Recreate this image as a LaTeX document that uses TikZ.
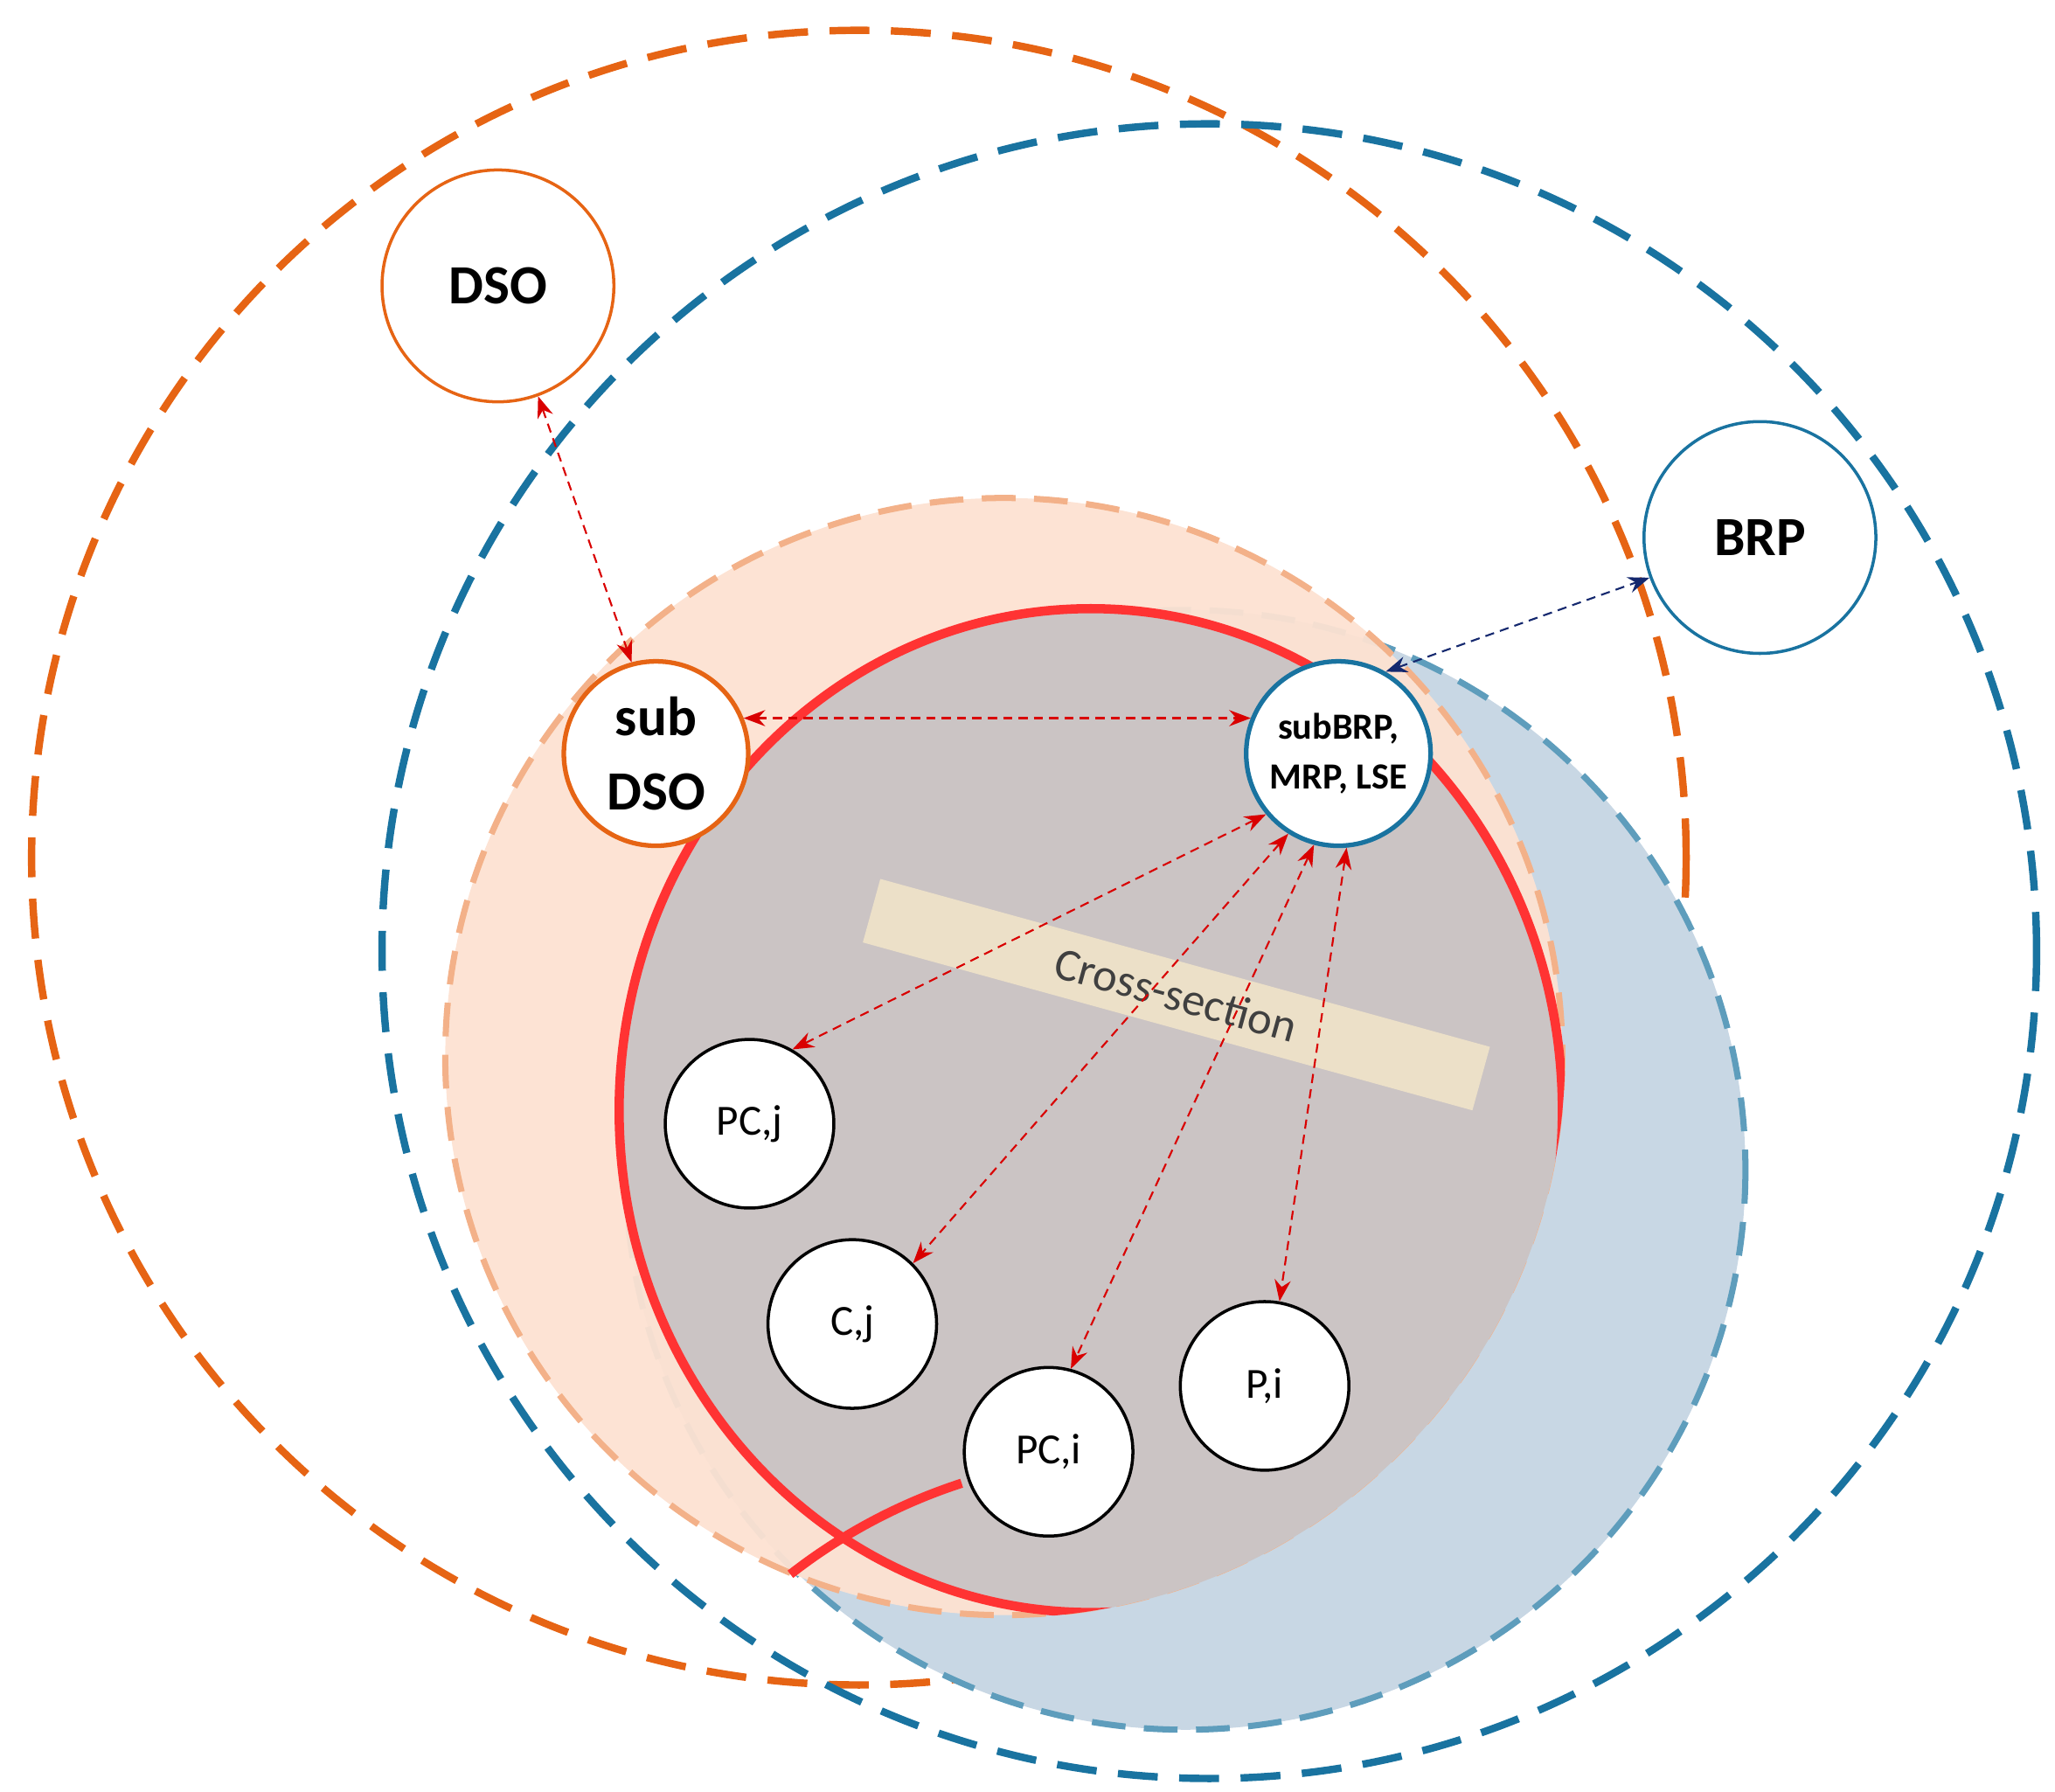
\documentclass[tikz,border=0pt]{standalone}
\usepackage{fontspec}
\setmainfont{Carlito}
\usetikzlibrary{arrows.meta}
\definecolor{dsoorange}{RGB}{230,100,20}
\definecolor{brpblue}{RGB}{25,115,160}
\definecolor{peach}{RGB}{253,226,210}
\definecolor{paleblue}{RGB}{200,215,228}
\definecolor{innergray}{RGB}{203,196,196}
\definecolor{band}{RGB}{236,224,200}
\definecolor{navylink}{RGB}{20,40,110}
\begin{document}
\begin{tikzpicture}[x=0.01507cm,y=-0.01507cm,
    bigring/.style={dash pattern=on 13pt off 7pt,line width=2.4pt},
    actor/.style={circle,draw,fill=white,line width=1pt,inner sep=0pt,align=center},
    member/.style={actor,draw=black,minimum size=128*0.01507cm,font=\fontsize{14}{16}\selectfont},
    link/.style={red!85!black,densely dashed,{Stealth[length=7pt]}-{Stealth[length=7pt]},line width=0.6pt}]
\useasboundingbox (0,0) rectangle (1560,1360);
% outer dashed rings
\draw[bigring,dsoorange] (652,651) circle (628);
\draw[bigring,brpblue] (918,722) circle (628);
% shaded zones
\fill[paleblue] (900,888) circle (425);
\draw[brpblue!70,dash pattern=on 11pt off 6pt,line width=2pt] (900,888) circle (425);
\fill[peach,opacity=0.95] (762,802) circle (424);
\draw[dsoorange!50,dash pattern=on 11pt off 6pt,line width=2pt] (762,802) circle (424);
\begin{scope}
  \clip (762,802) circle (426);
  \fill[innergray] (828,843) ellipse (358 and 381);
  \draw[red!80,line width=3pt] (828,843) ellipse (358 and 381);
\end{scope}
\draw[red!80,line width=3pt] (600,1195) arc (232:252:424);
% cross-section band
\node[fill=band,minimum width=480*0.01507cm,minimum height=50*0.01507cm,rotate=-15.4,
      font=\fontsize{15}{17}\selectfont,text=black!75] (band) at (893,755) {Cross-section};
% actors
\node[actor,draw=dsoorange,minimum size=176*0.01507cm,font=\bfseries\fontsize{18}{20}\selectfont] (dso) at (378,217) {DSO};
\node[actor,draw=brpblue,minimum size=176*0.01507cm,font=\bfseries\fontsize{18}{20}\selectfont] (brp) at (1336,408) {BRP};
\node[actor,draw=dsoorange,line width=1.5pt,minimum size=140*0.01507cm,font=\bfseries\fontsize{18}{24}\selectfont] (subdso) at (498,572) {sub\\DSO};
\node[actor,draw=brpblue,line width=1.5pt,minimum size=140*0.01507cm,font=\bfseries\fontsize{12}{16}\selectfont] (subbrp) at (1016,572) {subBRP,\\MRP, LSE};
\node[member] (pcj) at (569,853) {PC,j};
\node[member] (cj) at (647,1005) {C,j};
\node[member] (pci) at (796,1102) {PC,i};
\node[member] (pi) at (960,1052) {P,i};
% links
\draw[link] (dso.-70) -- (subdso.105);
\draw[link] (subdso.22) -- (subbrp.158);
\draw[link] (subbrp.220) -- (pcj.60);
\draw[link] (subbrp.238) -- (cj.45);
\draw[link] (subbrp.255) -- (pci.75);
\draw[link] (subbrp.275) -- (pi.80);
\draw[navylink,densely dashed,{Stealth[length=7pt]}-{Stealth[length=7pt]},line width=0.6pt] (subbrp.60) -- (brp.200);
\end{tikzpicture}
\end{document}
